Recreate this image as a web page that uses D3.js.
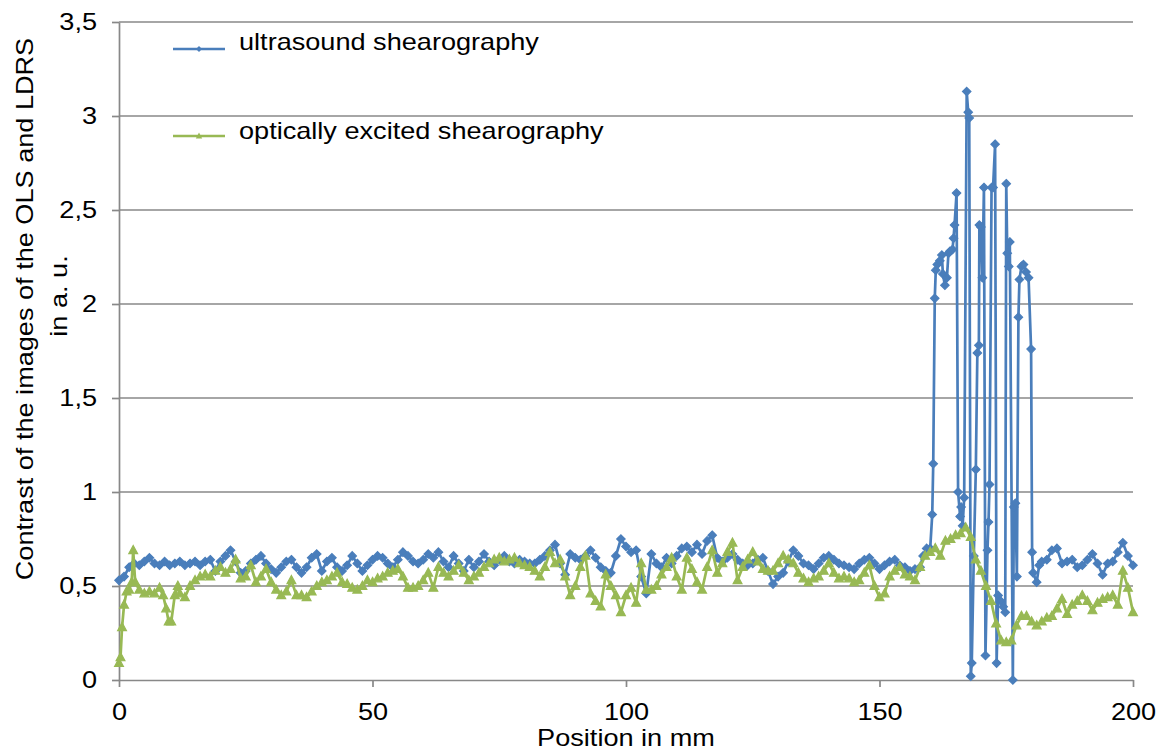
<!DOCTYPE html>
<html><head><meta charset="utf-8">
<script src="https://cdn.jsdelivr.net/npm/d3@7"></script>
<style>
body{margin:0;background:#fff}
text{font-family:"Liberation Sans",Arial,sans-serif;font-size:24px;fill:#000}
</style>
</head><body>
<svg id="chart" width="1163" height="751"></svg>
<script>
// ---------- data ----------
const seriesNames = ["ultrasound shearography", "optically excited shearography"];
const xTickValues = [0, 50, 100, 150, 200];
const yTickValues = [0, 0.5, 1, 1.5, 2, 2.5, 3, 3.5];

// ultrasound shearography: 1 mm steps from 0 to 157 mm
const blueLeftStart = 0;
const blueLeft = [
  0.53,0.55,0.60,0.62,0.61,0.63,0.65,0.62,0.61,0.63,
  0.61,0.62,0.63,0.61,0.62,0.63,0.61,0.63,0.64,0.58,
  0.63,0.66,0.69,0.63,0.57,0.58,0.62,0.64,0.66,0.62,
  0.59,0.57,0.60,0.63,0.64,0.60,0.57,0.60,0.65,0.67,
  0.58,0.63,0.65,0.60,0.58,0.61,0.66,0.62,0.58,0.61,
  0.64,0.66,0.65,0.62,0.60,0.64,0.68,0.66,0.63,0.62,
  0.64,0.67,0.65,0.68,0.63,0.60,0.66,0.62,0.58,0.64,
  0.60,0.63,0.67,0.63,0.61,0.64,0.66,0.63,0.62,0.64,
  0.63,0.62,0.62,0.64,0.66,0.69,0.72,0.62,0.56,0.67,
  0.65,0.64,0.66,0.69,0.65,0.60,0.58,0.57,0.66,0.75,
  0.71,0.68,0.69,0.55,0.46,0.67,0.62,0.60,0.65,0.62,
  0.66,0.70,0.71,0.68,0.72,0.67,0.74,0.77,0.65,0.63,
  0.65,0.67,0.64,0.62,0.61,0.62,0.64,0.65,0.58,0.51,
  0.55,0.57,0.63,0.69,0.66,0.62,0.61,0.59,0.62,0.65,
  0.66,0.64,0.62,0.61,0.60,0.59,0.62,0.64,0.65,0.62,
  0.59,0.61,0.63,0.64,0.61,0.60,0.58,0.59
];
// ultrasound shearography: defect region (position, value)
const blueSpikeX = [
  158.0,158.6,159.3,160.0,160.4,160.6,160.9,161.1,161.4,161.9,
  162.3,162.5,162.9,163.3,163.6,163.9,164.4,164.6,164.8,165.2,
  165.5,165.9,166.1,166.4,166.7,167.2,167.5,167.7,168.0,168.2,
  168.6,169.0,169.3,169.6,169.7,170.0,170.3,170.6,170.9,171.3,
  171.5,171.7,172.1,172.4,172.8,173.1,173.4,173.9,174.4,174.8,
  175.0,175.2,175.5,175.7,176.3,176.5,176.8,177.1,177.4,177.6,
  178.0,178.4,178.9,179.4,179.9,180.1,180.3,181.0,181.5
];
const blueSpike = [
  0.60,0.66,0.70,0.70,0.88,1.15,2.03,2.18,2.21,2.23,
  2.26,2.16,2.10,2.14,2.27,2.28,2.29,2.35,2.42,2.59,
  1.00,0.87,0.92,0.82,0.97,3.13,3.02,2.99,0.02,0.09,
  0.66,1.12,1.74,1.78,2.42,2.41,2.14,2.62,0.13,0.69,
  0.84,1.04,2.62,2.62,2.85,0.09,0.45,0.42,0.39,0.36,
  2.64,2.27,2.20,2.33,0.00,0.92,0.94,0.55,1.93,2.13,
  2.20,2.21,2.17,2.14,1.76,0.68,0.57,0.52,0.61
];
// ultrasound shearography: 1 mm steps from 182 to 200 mm
const blueRightStart = 182;
const blueRight = [0.63,0.64,0.69,0.70,0.62,0.63,0.64,0.60,0.61,0.64,
  0.67,0.62,0.56,0.62,0.63,0.68,0.73,0.66,0.61];

// optically excited shearography: start (position, value)
const greenStartX = [0,0.3,0.6,1,1.5,2,2.5,2.8,3.2,4,5,6,7,8,8.7,9.3,9.8,10.3,11,11.6];
const greenStart  = [0.09,0.12,0.28,0.40,0.47,0.48,0.52,0.69,0.52,0.48,0.46,0.47,0.46,0.49,0.45,0.38,0.31,0.31,0.45,0.50];
// optically excited shearography: 1 mm steps from 12 to 200 mm
const greenMainStart = 12;
const greenMain = [
  0.46,0.44,0.50,0.53,0.55,0.56,0.55,0.58,0.60,0.57,
  0.59,0.64,0.54,0.55,0.61,0.52,0.55,0.59,0.52,0.48,
  0.45,0.47,0.53,0.45,0.45,0.44,0.47,0.50,0.52,0.53,
  0.55,0.57,0.52,0.51,0.49,0.48,0.50,0.53,0.52,0.54,
  0.55,0.57,0.58,0.59,0.55,0.49,0.49,0.50,0.53,0.57,
  0.49,0.60,0.57,0.55,0.58,0.61,0.57,0.53,0.55,0.57,
  0.60,0.62,0.64,0.65,0.63,0.64,0.65,0.62,0.61,0.60,
  0.58,0.55,0.60,0.68,0.62,0.64,0.55,0.45,0.50,0.60,
  0.66,0.46,0.42,0.39,0.56,0.50,0.45,0.36,0.45,0.49,
  0.41,0.62,0.48,0.48,0.50,0.56,0.60,0.65,0.55,0.48,
  0.65,0.59,0.52,0.48,0.60,0.69,0.57,0.62,0.68,0.73,
  0.53,0.60,0.64,0.68,0.63,0.59,0.58,0.58,0.62,0.66,
  0.64,0.62,0.57,0.54,0.52,0.54,0.55,0.58,0.62,0.57,
  0.54,0.55,0.54,0.52,0.53,0.57,0.61,0.50,0.44,0.46,
  0.55,0.58,0.60,0.56,0.55,0.53,0.60,0.66,0.68,0.70,
  0.66,0.74,0.75,0.77,0.78,0.81,0.76,0.64,0.58,0.50,
  0.42,0.30,0.21,0.20,0.21,0.29,0.34,0.34,0.31,0.29,
  0.31,0.33,0.34,0.38,0.43,0.35,0.40,0.42,0.45,0.42,
  0.37,0.41,0.43,0.44,0.45,0.40,0.58,0.49,0.36
];

// ---------- build point lists ----------
const bluePts = [
  ...blueLeft.map((v,i)=>[blueLeftStart+i, v]),
  ...blueSpike.map((v,i)=>[blueSpikeX[i], v]),
  ...blueRight.map((v,i)=>[blueRightStart+i, v])
];
const greenPts = [
  ...greenStart.map((v,i)=>[greenStartX[i], v]),
  ...greenMain.map((v,i)=>[greenMainStart+i, v])
];

// ---------- layout ----------
const BLUE = "#4a7ebb", GREEN = "#98b954", GRID = "#888888";
const SX = 1.13; // horizontal text stretch
const svg = d3.select("#chart");
const x = d3.scaleLinear().domain([0,200]).range([119,1133]);
const y = d3.scaleLinear().domain([0,3.5]).range([680,22]);

// gridlines
svg.append("g").selectAll("line").data(yTickValues.filter(d=>d>0)).join("line")
  .attr("x1", x(0)).attr("x2", x(200))
  .attr("y1", d=>y(d)).attr("y2", d=>y(d))
  .attr("stroke", GRID).attr("stroke-width", 1.7);

const fmt = d => String(d).replace(".", ",");

// y axis
const gy = svg.append("g").attr("transform", `translate(${x(0)},0)`)
  .call(d3.axisLeft(y).tickValues(yTickValues).tickSize(7).tickSizeOuter(0).tickFormat(fmt));
// x axis
const gx = svg.append("g").attr("transform", `translate(0,${y(0)})`)
  .call(d3.axisBottom(x).tickValues(xTickValues).tickSize(7).tickSizeOuter(0).tickFormat(fmt));
[gy, gx].forEach(g=>{
  g.select(".domain").attr("stroke", GRID).attr("stroke-width", 1.7);
  g.selectAll(".tick line").attr("stroke", GRID).attr("stroke-width", 1.7);
  g.selectAll("text").attr("font-size", null).attr("font-family", null)
   .style("font-size","24px").style("font-family",'"Liberation Sans",Arial,sans-serif').attr("fill","#000");
});
gy.selectAll(".tick text").attr("x", -22/SX).attr("dy","0.32em").attr("transform", `scale(${SX},1)`);
gx.selectAll(".tick text").attr("y", 23).attr("dy","0.71em").attr("transform", `scale(${SX},1)`);

// axis titles
svg.append("text").attr("text-anchor","middle")
  .attr("transform", `translate(626,746) scale(${SX},1)`).text("Position in mm");
svg.append("text").attr("text-anchor","middle")
  .attr("transform", `translate(33,309) rotate(-90) scale(${SX},1)`)
  .text("Contrast of the images of the OLS and LDRS");
svg.append("text").attr("text-anchor","middle")
  .attr("transform", `translate(67,296) rotate(-90) scale(${SX},1)`)
  .text("in a. u.");

// series
const line = d3.line().x(d=>x(d[0])).y(d=>y(d[1]));
const diamond = r => `M0,${-r}L${r},0L0,${r}L${-r},0Z`;
const triangle = r => `M0,${-r*1.1}L${r},${r*0.75}L${-r},${r*0.75}Z`;

function drawSeries(pts, color, shape) {
  const g = svg.append("g");
  g.append("path").datum(pts).attr("d", line).attr("fill","none")
    .attr("stroke", color).attr("stroke-width", 2.7).attr("stroke-linejoin","round");
  g.selectAll("path.m").data(pts).join("path").attr("class","m")
    .attr("transform", d=>`translate(${x(d[0])},${y(d[1])})`)
    .attr("d", shape).attr("fill", color).attr("stroke", color).attr("stroke-width", 1.2);
}
drawSeries(bluePts, BLUE, diamond(4.2));
drawSeries(greenPts, GREEN, triangle(4.4));

// legend
const legend = [
  {name: seriesNames[0], color: BLUE, shape: diamond(3), ly: 49, ty: 50},
  {name: seriesNames[1], color: GREEN, shape: triangle(3.2), ly: 136, ty: 139}
];
legend.forEach(l=>{
  svg.append("line").attr("x1",173).attr("x2",225).attr("y1",l.ly).attr("y2",l.ly)
    .attr("stroke", l.color).attr("stroke-width", 2.4);
  svg.append("path").attr("d", l.shape).attr("fill", l.color)
    .attr("transform", `translate(199,${l.ly})`);
  svg.append("text").attr("transform", `translate(239,${l.ty}) scale(${SX},1)`).text(l.name);
});
</script>
</body></html>
